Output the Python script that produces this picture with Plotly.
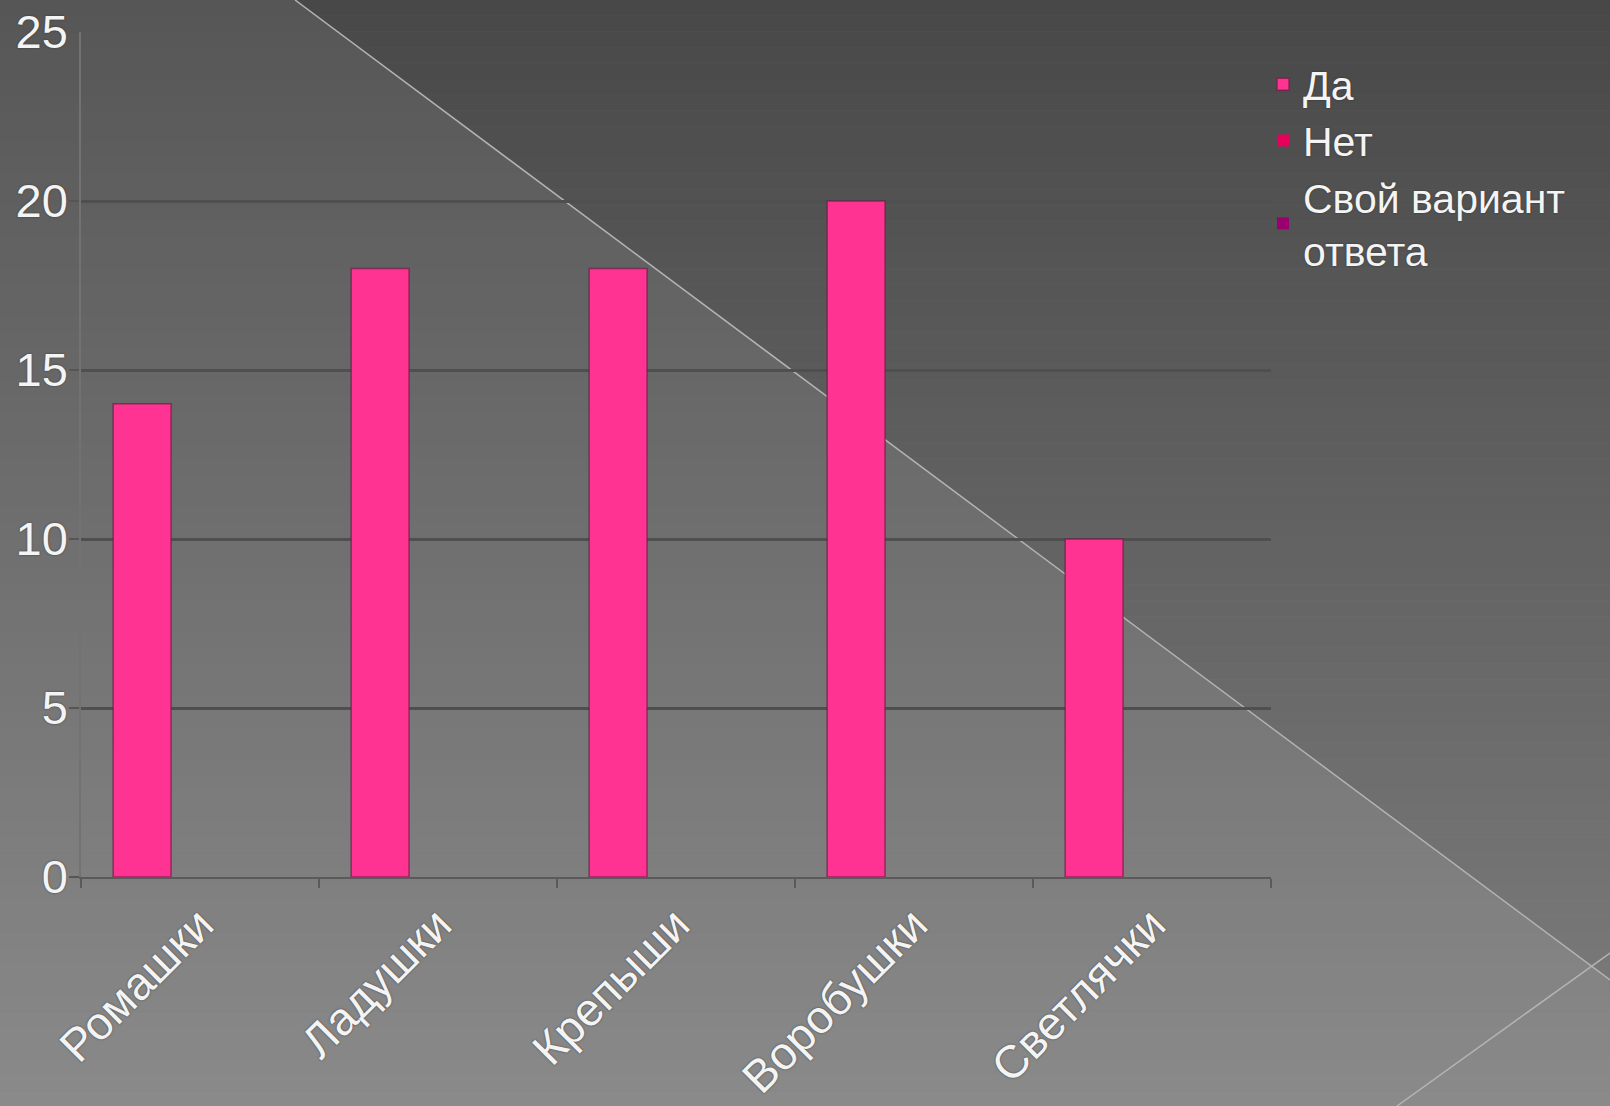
import plotly.graph_objects as go

categories = ["Ромашки", "Ладушки", "Крепыши", "Воробушки", "Светлячки"]
series_names = ["Да", "Нет", "Свой вариант<br>ответа"]
values_da = [14, 18, 18, 20, 10]
values_net = [0, 0, 0, 0, 0]
values_svoi = [0, 0, 0, 0, 0]
y_ticks = [0, 5, 10, 15, 20, 25]

colors = ["#ff3391", "#e6005c", "#990070"]

W, H = 1610, 1106
L, R, T, B = 81, 339, 32, 229
PW, PH = W - L - R, H - T - B


def px(x):
    return (x - L) / PW


def py(y):
    return (H - B - y) / PH


fig = go.Figure()
for i, (name, vals, col) in enumerate(zip(series_names, [values_da, values_net, values_svoi], colors)):
    fig.add_trace(go.Bar(
        x=categories, y=vals, name=name,
        marker=dict(color=col, line=dict(color="rgba(110,30,70,0.7)", width=1.5 if i == 0 else 0)),
    ))

shapes = []
N = 70
x_top, slope = 295.0, 1315.0 / 980.0
for i in range(N):
    y0 = H * i / N
    y1 = H * (i + 1) / N
    ym = (y0 + y1) / 2
    gL = int(round(86 + 0.047 * ym))
    gR = int(round(72 + 0.049 * ym))
    xl0 = x_top + slope * y0
    xl1 = x_top + slope * y1
    cl = f"rgb({gL},{gL},{gL})"
    cr = f"rgb({gR},{gR},{gR})"
    shapes.append(dict(type="rect", xref="paper", yref="paper", layer="below",
                       x0=px(0), x1=px(W), y0=py(y1 + 0.6), y1=py(y0),
                       fillcolor=cl, line=dict(width=0)))
    if xl0 < W:
        xa = min(xl0, W)
        xb = min(xl1, W)
        path = (f"M{px(xa)},{py(y0)} L{px(W)},{py(y0)} L{px(W)},{py(y1 + 0.6)} "
                f"L{px(xb)},{py(y1 + 0.6)} Z")
        shapes.append(dict(type="path", xref="paper", yref="paper", layer="below",
                           path=path, fillcolor=cr, line=dict(width=0)))

shapes.append(dict(type="line", xref="paper", yref="paper", layer="below",
                   x0=px(295), y0=py(0), x1=px(1610), y1=py(980),
                   line=dict(color="#b4b4b4", width=1.5)))
shapes.append(dict(type="line", xref="paper", yref="paper", layer="below",
                   x0=px(1610), y0=py(953), x1=px(1397), y1=py(1106),
                   line=dict(color="#b4b4b4", width=1.5)))

font_family = "Liberation Sans, Arial, sans-serif"
txt = "#f4f4f4"
shadow = "0px 0px 2px rgba(40,40,40,0.8)"

fig.update_layout(
    width=W, height=H,
    margin=dict(l=L, r=R, t=T, b=B, autoexpand=False),
    paper_bgcolor="#6e6e6e",
    plot_bgcolor="rgba(0,0,0,0)",
    barmode="group",
    bargap=0.27,
    bargroupgap=0,
    shapes=shapes,
    font=dict(family=font_family, color=txt),
    showlegend=True,
    legend=dict(
        x=px(1263), y=py(51), xanchor="left", yanchor="top",
        bgcolor="rgba(0,0,0,0)",
        font=dict(size=41, color=txt, family=font_family, shadow=shadow),
        tracegroupgap=0, itemwidth=30,
    ),
    xaxis=dict(
        type="category",
        tickangle=-45,
        tickfont=dict(size=46, color=txt, shadow=shadow),
        showline=True, linecolor="#5a5a5a", linewidth=2,
        ticks="outside", ticklen=9, tickcolor="#5a5a5a", tickwidth=2,
        tickson="boundaries",
        showgrid=False,
        automargin=False,
    ),
    yaxis=dict(
        range=[0, 25],
        tickvals=y_ticks,
        tickfont=dict(size=47, color=txt, shadow=shadow),
        showline=True, linecolor="#727272", linewidth=1.5,
        ticks="outside", ticklen=10, tickcolor="#555555", tickwidth=2,
        ticklabelstandoff=-8,
        showgrid=True, gridcolor="#4f4f4f", gridwidth=2.5,
        zeroline=False,
        automargin=False,
    ),
)

fig.write_html("out.html", config={"displayModeBar": False},
               post_script="document.body.style.margin='0';document.body.style.overflow='hidden';")
